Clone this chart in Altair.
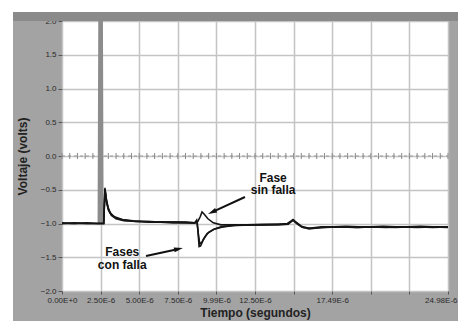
import altair as alt
import pandas as pd

# ---- data (time in microseconds, voltage in volts) ----
t_sin = [0.0, 0.8, 1.6, 2.3, 2.7, 2.78, 2.86, 3.0, 3.2, 3.5, 4.0, 4.8, 5.6, 6.4, 7.2,
         8.0, 8.6, 8.8, 8.95, 9.07, 9.2, 9.45, 9.8, 10.3, 11.0, 12.0, 13.0, 14.0, 14.6, 14.85,
         14.96, 15.1, 15.5, 16.0, 16.8, 17.6, 18.4, 19.2, 20.0, 20.8, 21.6, 22.4, 23.2, 24.0, 25.0]
v_sin = [-0.99, -1.0, -0.99, -1.0, -1.0, -0.47, -0.62, -0.78, -0.87, -0.92, -0.95, -0.97, -0.97, -0.98, -0.98,
         -0.98, -0.99, -0.97, -0.9, -0.83, -0.86, -0.93, -0.99, -1.02, -1.02, -1.02, -1.01, -1.01, -1.0, -0.96,
         -0.94, -0.97, -1.04, -1.07, -1.05, -1.05, -1.04, -1.05, -1.05, -1.04, -1.05, -1.05, -1.04, -1.05, -1.05]

t_con1 = [0.0, 0.8, 1.6, 2.3, 2.7, 2.78, 2.86, 3.0, 3.2, 3.5, 4.0, 4.8, 5.6, 6.4, 7.2,
          8.0, 8.6, 8.72, 8.8, 8.88, 8.98, 9.15, 9.4, 9.8, 10.3, 11.0, 12.0, 13.0, 14.0, 14.6,
          14.85, 14.96, 15.1, 15.5, 16.0, 16.8, 17.6, 18.4, 19.2, 20.0, 20.8, 21.6, 22.4, 23.2, 24.0, 25.0]
v_con1 = [-1.0, -0.99, -1.0, -1.0, -1.0, -0.49, -0.65, -0.8, -0.88, -0.93, -0.96, -0.97, -0.98, -0.98, -0.99,
          -0.99, -0.99, -0.95, -1.1, -1.34, -1.33, -1.24, -1.15, -1.09, -1.05, -1.03, -1.02, -1.02, -1.01, -1.01,
          -0.97, -0.95, -0.98, -1.05, -1.08, -1.06, -1.05, -1.05, -1.06, -1.05, -1.05, -1.06, -1.05, -1.05, -1.06, -1.05]

t_con2 = [0.0, 1.0, 2.0, 2.7, 2.79, 2.9, 3.1, 3.4, 3.9, 4.6, 5.5, 6.5, 7.5, 8.6, 8.75, 8.83, 8.92, 9.05, 9.25, 9.5,
          9.9, 10.4, 11.2, 12.5, 14.0, 14.65, 14.9, 15.0, 15.2, 15.6, 16.1, 17.0, 18.0, 19.0, 20.0, 21.0, 22.0, 23.0, 24.0, 25.0]
v_con2 = [-1.0, -1.0, -1.0, -1.0, -0.5, -0.7, -0.84, -0.9, -0.94, -0.96, -0.97, -0.98, -0.98, -0.99, -0.97, -1.15, -1.3, -1.28, -1.2, -1.13,
          -1.08, -1.05, -1.03, -1.02, -1.02, -1.01, -0.96, -0.95, -1.0, -1.06, -1.07, -1.06, -1.05, -1.06, -1.05, -1.06, -1.05, -1.06, -1.05, -1.06]

t_spike = [2.4, 2.45, 2.55, 2.6]
v_spike = [-1.0, 2.3, 2.3, -1.0]

x_tick_vals = [0, 2.5, 5, 7.5, 10, 12.5, 15, 17.5, 20, 22.5, 25]
x_tick_labels = ["0.00E+0", "2.50E-6", "5.00E-6", "7.50E-6", "9.99E-6", "12.50E-6", "",
                 "17.49E-6", "", "", "24.98E-6"]
y_tick_vals = [-2.0, -1.5, -1.0, -0.5, 0.0, 0.5, 1.0, 1.5, 2.0]

ann_text = ["Fase\nsin falla", "Fases\ncon falla"]
ann_x = [13.67, 3.9]
ann_y = [-0.25, -1.35]

arrow_x0 = [11.85, 5.44]
arrow_y0 = [-0.607, -1.481]
arrow_x1 = [9.72, 7.55]
arrow_y1 = [-0.831, -1.377]
arrow_angle = [245, 78]

# ---- frames ----
rows = []
for name, ts, vs in [("sin", t_sin, v_sin), ("con1", t_con1, v_con1), ("con2", t_con2, v_con2)]:
    assert len(ts) == len(vs)
    for t, v in zip(ts, vs):
        rows.append({"t": t, "v": v, "serie": name})
lines_df = pd.DataFrame(rows)
spike_df = pd.DataFrame({"t": t_spike, "v": v_spike})
ann_df = pd.DataFrame({"x": ann_x, "y": ann_y, "txt": ann_text})
arr_df = pd.DataFrame({"x0": arrow_x0, "y0": arrow_y0, "x1": arrow_x1, "y1": arrow_y1, "ang": arrow_angle})

W, H = 386, 270
FONT = "Liberation Sans"

label_expr = "[" + ",".join("'" + s + "'" for s in x_tick_labels) + "][round(datum.value/2.5)]"

xscale = alt.Scale(domain=[0, 25], nice=False, zero=False)
yscale = alt.Scale(domain=[-2, 2], nice=False, zero=False)

x_axis = alt.Axis(values=x_tick_vals, labelExpr=label_expr, title="Tiempo (segundos)",
                  grid=True, gridColor="#c4c4c4", gridWidth=1.5, domain=False,
                  tickColor="#555", tickSize=3, labelFontSize=8, labelColor="#2a2a2a",
                  labelFont=FONT, labelOverlap=False, labelFlush=False, labelPadding=2,
                  labelAlign={"condition": {"test": "datum.value == 25", "value": "right"}, "value": "center"},
                  labelOffset={"condition": {"test": "datum.value == 25", "value": 9}, "value": 0},
                  titleFont=FONT, titleFontSize=12, titleFontWeight="bold", titleColor="#222",
                  titleX=193, titleY=21, titleBaseline="middle")
y_axis = alt.Axis(values=y_tick_vals, format=".1f", title="Voltaje (volts)",
                  grid=True, gridColor="#c4c4c4", gridWidth=1.5, domain=False,
                  tickColor="#555", tickSize=4, labelFontSize=8, labelColor="#2a2a2a",
                  labelFont=FONT, labelPadding=2, labelOverlap=False,
                  titleFont=FONT, titleFontSize=12, titleFontWeight="bold", titleColor="#222",
                  titleX=-40, titleY=135, titleBaseline="middle", titleAlign="center")


def X(field):
    return alt.X(field, scale=xscale, axis=x_axis)


def Y(field):
    return alt.Y(field, scale=yscale, axis=y_axis)


one = alt.Data(values=[{}])

white_top = alt.Chart(one).mark_rect(color="white").encode(
    x=alt.value(-54), x2=alt.value(W + 10), y=alt.value(-13), y2=alt.value(-9))
white_left = alt.Chart(one).mark_rect(color="white").encode(
    x=alt.value(-54), x2=alt.value(-49), y=alt.value(-13), y2=alt.value(H + 30))
strip = alt.Chart(one).mark_rect(color="#8a8a8a").encode(
    x=alt.value(-49), x2=alt.value(W + 10), y=alt.value(-9), y2=alt.value(0))

zero_dash = alt.Chart(one).mark_rule(color="#9a9a9a", strokeWidth=1, strokeDash=[3, 3]).encode(
    y=alt.datum(0, scale=yscale, axis=y_axis), x=alt.value(0), x2=alt.value(W))

zero_ticks = alt.Chart(alt.sequence(0, 25.01, 0.5, as_="t")).mark_rule(color="#8a8a8a", strokeWidth=1).encode(
    x=X("t:Q"), y=alt.datum(0.045, scale=yscale, axis=y_axis), y2=alt.datum(-0.045))

spike = alt.Chart(spike_df).mark_line(color="#8c8c8c", strokeWidth=3, clip=True).encode(
    x=X("t:Q"), y=Y("v:Q"))

base_lines = alt.Chart(lines_df).mark_line(color="#151515", strokeWidth=1.6, clip=True).encode(
    x=X("t:Q"), y=Y("v:Q"), detail="serie:N")

arrows = alt.Chart(arr_df).mark_rule(color="#111", strokeWidth=2).encode(
    x=X("x0:Q"), y=Y("y0:Q"), x2="x1:Q", y2="y1:Q")
heads = alt.Chart(arr_df).mark_point(shape="M0,-1L0.55,1L-0.55,1Z", filled=True, color="#111",
                                     size=80, opacity=1).encode(
    x=X("x1:Q"), y=Y("y1:Q"), angle=alt.Angle("ang:Q", scale=None))

labels = alt.Chart(ann_df).mark_text(font=FONT, fontSize=12, fontWeight="bold", color="#111",
                                     lineBreak="\n", lineHeight=12.5, baseline="top", align="center").encode(
    x=X("x:Q"), y=Y("y:Q"), text="txt:N")

chart = alt.layer(white_top, white_left, strip, zero_dash, zero_ticks, spike, base_lines,
                  arrows, heads, labels).properties(
    width=W, height=H, autosize="none", background="#a3a3a3",
    padding={"left": 54, "top": 13, "right": 10, "bottom": 30}
).configure_view(fill="white", strokeWidth=0)

chart.save("out.html", embed_options={"renderer": "svg", "actions": False})
